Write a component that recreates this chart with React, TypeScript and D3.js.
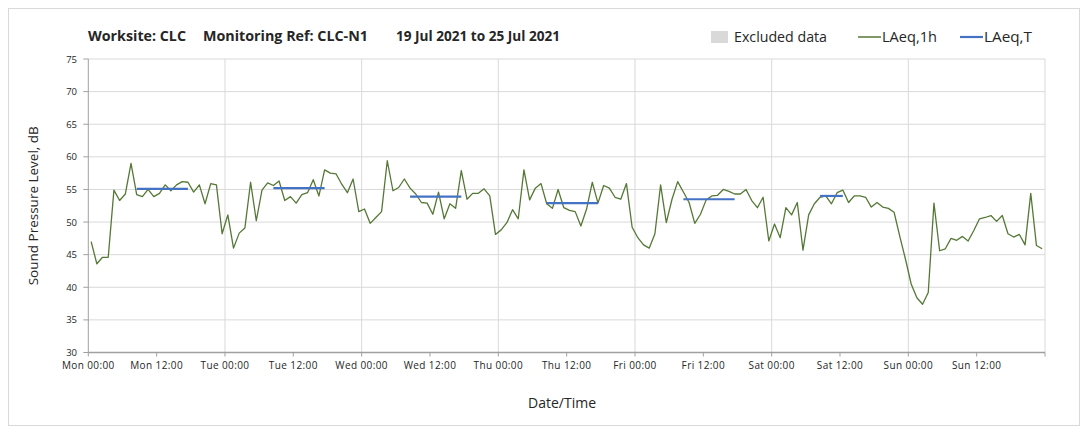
import React from "react";
import * as d3 from "d3";

// ---------- data ----------
const dayNames = ["Mon", "Tue", "Wed", "Thu", "Fri", "Sat", "Sun"];
const tickTimes = ["00:00", "12:00"];
const yTicks = [30, 35, 40, 45, 50, 55, 60, 65, 70, 75];

// LAeq,1h – hourly values, Mon 00:00 .. Sun 23:00
const laeq1h = [
  47.0, 43.6, 44.6, 44.6, 54.9, 53.3, 54.3, 59.0, 54.2, 53.9, 55.0, 53.9,
  54.4, 55.7, 54.8, 55.7, 56.2, 56.1, 54.6, 55.7, 52.8, 55.9, 55.7, 48.2,
  51.1, 46.0, 48.3, 49.1, 56.1, 50.2, 54.9, 56.0, 55.6, 56.3, 53.3, 53.9,
  52.9, 54.2, 54.5, 56.5, 54.0, 58.0, 57.5, 57.4, 55.8, 54.5, 56.6, 51.6,
  52.0, 49.8, 50.7, 51.6, 59.4, 54.8, 55.3, 56.6, 55.2, 54.3, 53.0, 52.9,
  51.2, 54.6, 50.5, 52.8, 52.1, 57.9, 53.5, 54.4, 54.4, 55.1, 54.0, 48.1,
  48.8, 49.9, 51.9, 50.5, 58.0, 53.4, 55.2, 55.9, 52.8, 52.1, 55.0, 52.2,
  51.8, 51.6, 49.4, 52.0, 56.1, 52.9, 55.6, 55.2, 53.8, 53.5, 55.9, 49.2,
  47.6, 46.5, 46.0, 48.2, 55.7, 49.9, 53.5, 56.2, 54.6, 53.0, 49.8, 51.2,
  53.4, 54.0, 54.1, 55.0, 54.7, 54.3, 54.3, 55.0, 53.3, 52.2, 53.8, 47.1,
  49.7, 47.6, 52.2, 51.1, 53.0, 45.7, 51.1, 52.8, 53.8, 54.0, 52.8, 54.5,
  54.9, 53.0, 54.0, 54.0, 53.8, 52.3, 53.0, 52.3, 52.1, 51.5, 47.8, 44.3,
  40.5, 38.4, 37.4, 39.2, 52.9, 45.6, 45.9, 47.5, 47.2, 47.8, 47.1, 48.7,
  50.5, 50.7, 51.0, 50.1, 51.0, 48.2, 47.7, 48.1, 46.5, 54.4, 46.4, 45.9,
];

// LAeq,T – period averages (hour index start/end)
const periodStart = [8, 32, 56, 80, 104, 128];
const periodEnd = [17, 41, 65, 89, 113, 132];
const periodValue = [55.1, 55.2, 53.9, 52.9, 53.5, 54.0];

// ---------- layout ----------
const W = 1088;
const H = 434;
const plotLeft = 88.3;
const plotRight = 1045;
const plotTop = 59;
const plotBottom = 352.5;
const FONT = "'Open Sans', 'DejaVu Sans', sans-serif";

const green = "#557836";
const blue = "#4472c4";
const grid = "#d9d9d9";
const axisCol = "#a0a0a0";
const textCol = "#262626";

export default function App() {
  const x = d3.scaleLinear().domain([0, 168]).range([plotLeft, plotRight]);
  const y = d3.scaleLinear().domain([30, 75]).range([plotBottom, plotTop]);

  const line = d3
    .line<number>()
    .x((_, i) => x(i + 0.5))
    .y((d) => y(d));

  const xTicks = d3.range(0, 169, 12);
  const dayGrid = d3.range(24, 169, 24);

  return (
    <svg
      width={W}
      height={H}
      style={{ position: "absolute", left: 0, top: 0, fontFamily: FONT }}
    >
      <rect x={0} y={0} width={W} height={H} fill="#fff" />
      <rect x={8.5} y={8.5} width={1071} height={417} fill="none" stroke={grid} strokeWidth={1} />

      {/* title */}
      <text x={88} y={41} fontSize={14} fontWeight={700} fill={textCol} textLength={98} lengthAdjust="spacingAndGlyphs">
        Worksite: CLC
      </text>
      <text x={203} y={41} fontSize={14} fontWeight={700} fill={textCol} textLength={165} lengthAdjust="spacingAndGlyphs">
        Monitoring Ref: CLC-N1
      </text>
      <text x={396} y={41} fontSize={14} fontWeight={700} fill={textCol} textLength={164} lengthAdjust="spacingAndGlyphs">
        19 Jul 2021 to 25 Jul 2021
      </text>

      {/* legend */}
      <rect x={711} y={31} width={17} height={12} fill="#d9d9d9" />
      <text x={734} y={42} fontSize={14} fill={textCol} textLength={93} lengthAdjust="spacingAndGlyphs">Excluded data</text>
      <line x1={858} x2={881} y1={37} y2={37} stroke={green} strokeWidth={1.5} />
      <text x={882} y={42} fontSize={14} fill={textCol} textLength={55} lengthAdjust="spacingAndGlyphs">LAeq,1h</text>
      <line x1={960} x2={983} y1={37} y2={37} stroke={blue} strokeWidth={2.2} />
      <text x={984} y={42} fontSize={14} fill={textCol} textLength={48} lengthAdjust="spacingAndGlyphs">LAeq,T</text>

      {/* horizontal gridlines */}
      {yTicks.map((t) => (
        <line key={"hg" + t} x1={plotLeft} x2={plotRight} y1={y(t)} y2={y(t)} stroke={grid} strokeWidth={1} />
      ))}
      {/* vertical gridlines at day boundaries */}
      {dayGrid.map((h) => (
        <line key={"vg" + h} x1={x(h)} x2={x(h)} y1={plotTop} y2={plotBottom} stroke={grid} strokeWidth={1} />
      ))}

      {/* y axis */}
      <line x1={plotLeft} x2={plotLeft} y1={plotTop} y2={plotBottom} stroke={axisCol} strokeWidth={1} />
      {yTicks.map((t) => (
        <g key={"yt" + t}>
          <line x1={plotLeft - 5} x2={plotLeft} y1={y(t)} y2={y(t)} stroke={axisCol} />
          <text x={77} y={y(t) + 3.5} fontSize={9.5} textAnchor="end" fill={textCol}>
            {t}
          </text>
        </g>
      ))}

      {/* x axis */}
      <line x1={plotLeft} x2={plotRight} y1={plotBottom} y2={plotBottom} stroke={axisCol} strokeWidth={1.5} />
      {xTicks.map((h) => (
        <line key={"xt" + h} x1={x(h)} x2={x(h)} y1={plotBottom} y2={plotBottom + 4} stroke={axisCol} />
      ))}
      {xTicks.slice(0, 14).map((h, i) => (
        <text key={"xl" + h} x={x(h)} y={369} fontSize={10} letterSpacing={0.4} textAnchor="middle" fill={textCol}>
          {dayNames[Math.floor(i / 2)] + " " + tickTimes[i % 2]}
        </text>
      ))}

      {/* axis titles */}
      <text x={562} y={408} fontSize={14} textAnchor="middle" fill={textCol}>
        Date/Time
      </text>
      <text
        transform={`translate(38, ${(plotTop + plotBottom) / 2}) rotate(-90)`}
        fontSize={13.5}
        textAnchor="middle"
        fill={textCol}
      >
        Sound Pressure Level, dB
      </text>

      {/* LAeq,1h */}
      <path d={line(laeq1h) || ""} fill="none" stroke={green} strokeWidth={1.3} strokeLinejoin="round" />

      {/* LAeq,T */}
      {periodValue.map((v, i) => (
        <line
          key={"p" + i}
          x1={x(periodStart[i] + 0.5)}
          x2={x(periodEnd[i] + 0.5)}
          y1={y(v)}
          y2={y(v)}
          stroke={blue}
          strokeWidth={2.2}
        />
      ))}
    </svg>
  );
}
